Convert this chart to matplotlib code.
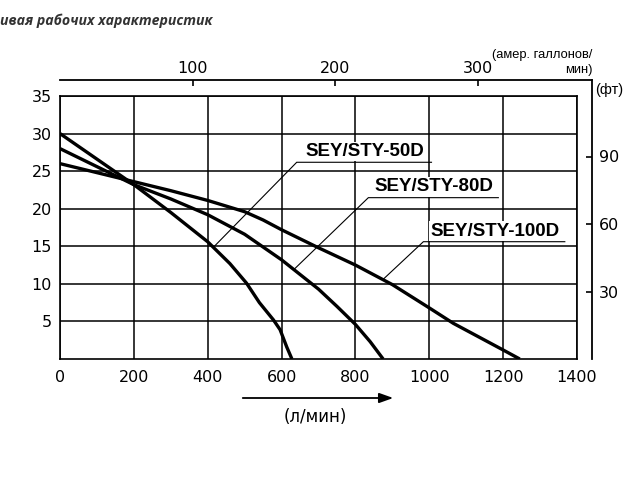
import matplotlib
matplotlib.use("Agg")
import matplotlib.pyplot as plt

# ---- data (flow in l/min, head in m) ----
flow_50 = [0, 100, 200, 300, 400, 460, 505, 540, 578, 596, 614, 628]
head_50 = [30, 26.6, 23.2, 19.5, 15.6, 12.7, 10.1, 7.5, 5.2, 3.9, 1.6, 0]

flow_80 = [0, 100, 200, 300, 400, 500, 600, 700, 750, 800, 840, 875]
head_80 = [28, 25.6, 23.2, 21.3, 19.2, 16.6, 13.2, 9.3, 7.0, 4.6, 2.3, 0]

flow_100 = [0, 100, 200, 300, 400, 500, 550, 600, 700, 800, 900, 1000, 1065, 1200, 1245]
head_100 = [26, 24.8, 23.6, 22.4, 21.1, 19.6, 18.5, 17.2, 14.8, 12.5, 9.9, 6.8, 4.75, 1.2, 0]

x_ticks = [0, 200, 400, 600, 800, 1000, 1200, 1400]
y_ticks = [5, 10, 15, 20, 25, 30, 35]
gal_ticks = [100, 200, 300]
ft_ticks = [30, 60, 90]

labels = ["SEY/STY-50D", "SEY/STY-80D", "SEY/STY-100D"]

W, H = 640, 480
fig = plt.figure(figsize=(6.4, 4.8), dpi=100)

TICKFONT = "DejaVu Sans"

# main axes
ax = fig.add_axes([60 / W, 121 / H, 517 / W, 263 / H])
ax.set_xlim(0, 1400)
ax.set_ylim(0, 35)
ax.set_xticks(x_ticks)
ax.set_yticks(y_ticks)
ax.tick_params(axis="both", length=0, labelsize=11.5)
ax.tick_params(axis="x", pad=8)
ax.tick_params(axis="y", pad=6)
for lab in ax.get_xticklabels() + ax.get_yticklabels():
    lab.set_fontfamily(TICKFONT)
ax.grid(True, color="black", lw=1.1)
ax.set_axisbelow(True)
for s in ax.spines.values():
    s.set_linewidth(1.2)

for fx, hy in [(flow_50, head_50), (flow_80, head_80), (flow_100, head_100)]:
    ax.plot(fx, hy, color="black", lw=2.4, solid_capstyle="butt",
            solid_joinstyle="round", zorder=3)

# curve labels with underline + leader
lab_pos = [(826, 27.6), (1012, 22.9), (1178, 17.0)]
underline = [((641, 1006), 26.18), ((835, 1187), 21.47), ((984, 1367), 15.61)]
leader_end = [(417, 14.95), (634, 11.94), (875, 10.6)]
for name, (tx, ty), ((u0, u1), uy), (lx, ly) in zip(labels, lab_pos, underline, leader_end):
    ax.text(tx, ty, name, ha="center", va="center", fontsize=13.5,
            fontweight="bold", family="Liberation Sans", zorder=5,
            bbox=dict(facecolor="white", edgecolor="none", pad=1.0))
    ax.plot([lx, u0, u1], [ly, uy, uy], color="black", lw=0.8, zorder=4,
            solid_joinstyle="miter")

# secondary axes: US gal/min (top) and ft (right)
ax2 = fig.add_axes([60 / W, 121 / H, 532 / W, 279 / H])
ax2.patch.set_visible(False)
ax2.set_xlim(6.7, 380.4)
ax2.set_ylim(0, 124)
ax2.spines["left"].set_visible(False)
ax2.spines["bottom"].set_visible(False)
ax2.spines["top"].set_linewidth(1.3)
ax2.spines["right"].set_linewidth(1.3)
ax2.xaxis.tick_top()
ax2.yaxis.tick_right()
ax2.set_xticks(gal_ticks)
ax2.set_yticks(ft_ticks)
ax2.tick_params(axis="x", direction="in", length=4.5, width=1.2, pad=3, labelsize=11.5)
ax2.tick_params(axis="y", direction="in", length=4.5, width=1.2, pad=5, labelsize=11.5)
for lab in ax2.get_xticklabels() + ax2.get_yticklabels():
    lab.set_fontfamily(TICKFONT)

# unit texts
fig.text(592.5 / W, 1 - 55 / H, "(амер. галлонов/", ha="right", va="center",
         fontsize=9.3, family="Liberation Sans")
fig.text(592.5 / W, 1 - 70 / H, "мин)", ha="right", va="center",
         fontsize=9.3, family="Liberation Sans")
fig.text(595 / W, 1 - 90 / H, "(фт)", ha="left", va="center",
         fontsize=10.5, family="Liberation Sans")

# flow arrow + unit
fig.add_artist(matplotlib.patches.FancyArrowPatch(
    (240 / W, 1 - 398 / H), (396 / W, 1 - 398 / H), transform=fig.transFigure,
    arrowstyle="-|>,head_length=0.7,head_width=0.25", color="black", lw=1.3,
    mutation_scale=12))
fig.text(315 / W, 1 - 417 / H, "(л/мин)", ha="center", va="center",
         fontsize=12, family=TICKFONT)

# title fragment
fig.text(0 / W, 1 - 21 / H, "ивая рабочих характеристик", ha="left", va="center",
         fontsize=10.2, fontweight="bold", fontstyle="italic",
         family=["Open Sans", "DejaVu Sans"], color="#333333")

fig.savefig("out.png", dpi=100)
